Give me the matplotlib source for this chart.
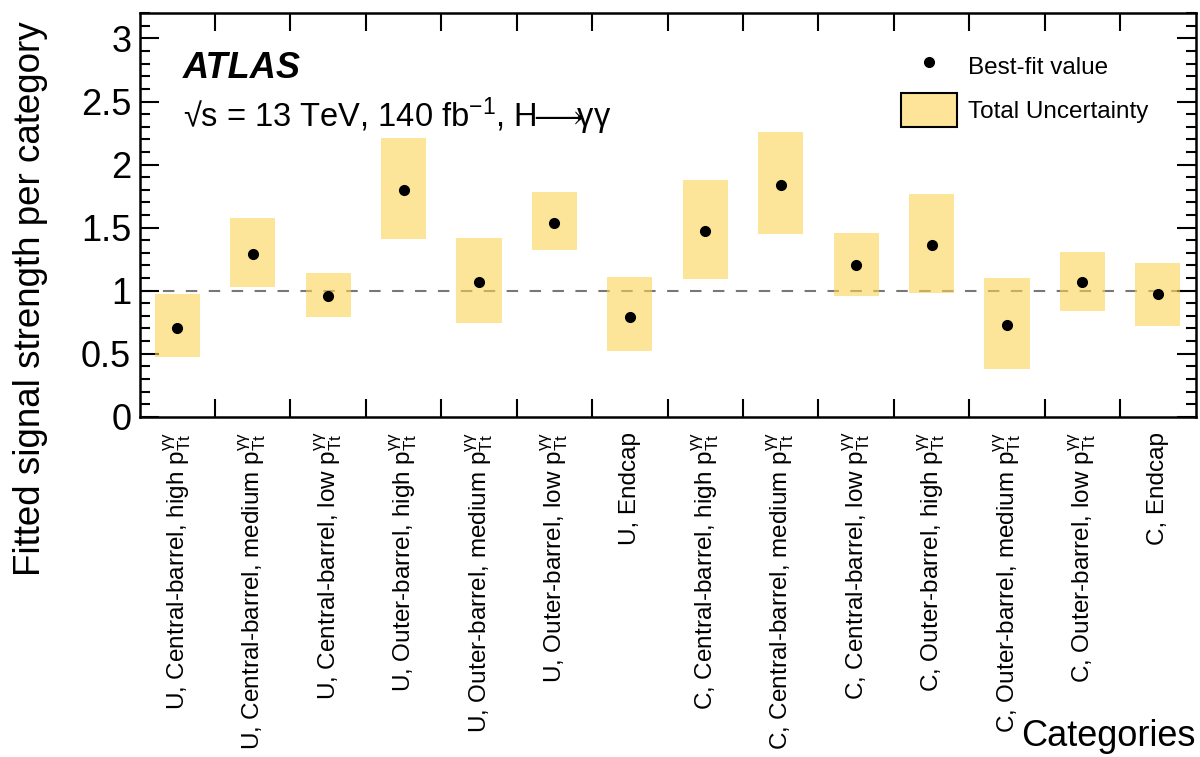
#!/usr/bin/env python3
"""Fitted signal strength per H->yy category, with total uncertainty bands."""

import matplotlib

matplotlib.use("Agg")
import matplotlib.pyplot as plt
from matplotlib.lines import Line2D
from matplotlib.patches import Patch, Rectangle
from matplotlib.ticker import MultipleLocator

plt.rcParams["font.family"] = ["Liberation Sans", "DejaVu Sans"]
plt.rcParams["mathtext.fontset"] = "custom"
plt.rcParams["mathtext.rm"] = "Liberation Sans"
plt.rcParams["mathtext.it"] = "Liberation Sans:italic"
plt.rcParams["mathtext.bf"] = "Liberation Sans:bold"
plt.rcParams["mathtext.fallback"] = "stixsans"

PTT = r"$\mathrm{p}_{\mathrm{Tt}}^{\mathrm{γγ}}$"

categories = [
    f"U, Central-barrel, high {PTT}",
    f"U, Central-barrel, medium {PTT}",
    f"U, Central-barrel, low {PTT}",
    f"U, Outer-barrel, high {PTT}",
    f"U, Outer-barrel, medium {PTT}",
    f"U, Outer-barrel, low {PTT}",
    "U, Endcap",
    f"C, Central-barrel, high {PTT}",
    f"C, Central-barrel, medium {PTT}",
    f"C, Central-barrel, low {PTT}",
    f"C, Outer-barrel, high {PTT}",
    f"C, Outer-barrel, medium {PTT}",
    f"C, Outer-barrel, low {PTT}",
    "C, Endcap",
]
mu_best = [0.70, 1.29, 0.96, 1.80, 1.07, 1.54, 0.79, 1.47, 1.84, 1.20, 1.36, 0.73, 1.07, 0.97]
mu_up = [0.97, 1.58, 1.14, 2.21, 1.42, 1.78, 1.11, 1.88, 2.26, 1.46, 1.77, 1.10, 1.31, 1.22]
mu_down = [0.47, 1.03, 0.79, 1.41, 0.74, 1.32, 0.52, 1.09, 1.45, 0.96, 0.98, 0.38, 0.84, 0.72]

BAND_COLOR = "#fbd253"
LEGEND_BAND = "#fde498"
BOX_WIDTH = 0.6

fig = plt.figure(figsize=(12, 7.57), dpi=100)
ax = fig.add_axes([0.1163, 0.4495, 0.880, 0.533])

centers = [i + 0.5 for i in range(len(categories))]

# reference line at mu = 1, drawn under the semi-transparent bands
ref = ax.axhline(1.0, color="#777777", lw=1.5, zorder=1)
ref.set_dashes((5.5, 5.5))

for x, lo, hi in zip(centers, mu_down, mu_up):
    ax.add_patch(Rectangle((x - BOX_WIDTH / 2, lo), BOX_WIDTH, hi - lo,
                           facecolor=BAND_COLOR, edgecolor="none", alpha=0.6, zorder=2))
ax.plot(centers, mu_best, "o", color="black", markersize=7, zorder=3)

ax.set_xlim(0, len(categories))
ax.set_ylim(0, 3.2)

# major x ticks sit on the category boundaries, labels on the centres
ax.set_xticks(range(1, len(categories)))
ax.set_xticklabels([])
ax.set_xticks(centers, categories, minor=True)
ax.tick_params(axis="x", which="minor", length=0, pad=11, labelsize=17.5, rotation=90)
for lab in ax.get_xticklabels(minor=True):
    lab.set_verticalalignment("top")
ax.tick_params(axis="x", which="major", direction="in", length=13, width=1.5,
               top=True, bottom=True)

ax.yaxis.set_major_locator(MultipleLocator(0.5))
ax.yaxis.set_minor_locator(MultipleLocator(0.1))
ax.set_yticks([0, 0.5, 1, 1.5, 2, 2.5, 3], ["0", "0.5", "1", "1.5", "2", "2.5", "3"])
ax.tick_params(axis="y", which="major", direction="in", length=14, width=1.5,
               left=True, right=True, labelsize=26, pad=6)
ax.tick_params(axis="y", which="minor", direction="in", length=7, width=1.5,
               left=True, right=True)
for spine in ax.spines.values():
    spine.set_linewidth(1.8)

ax.set_ylabel("Fitted signal strength per category", fontsize=26.5, loc="top")
ax.yaxis.set_label_coords(-0.087, 0.98)
ax.set_xlabel("Categories", fontsize=26, loc="right")
ax.xaxis.set_label_coords(1.0, -0.75)

ax.text(0.041, 0.84, "ATLAS", transform=ax.transAxes, fontsize=26,
        fontweight="bold", fontstyle="italic")
ax.text(0.041, 0.718, r"√s = 13 TeV, 140 fb$^{-1}$, H$\!\!\longrightarrow\!\!\!$γγ",
        transform=ax.transAxes, fontsize=23.5)

handles = [
    Line2D([], [], marker="o", color="black", linestyle="none", markersize=7),
    Patch(facecolor=LEGEND_BAND, edgecolor="black", linewidth=1.5),
]
ax.legend(handles, ["Best-fit value", "Total Uncertainty"], loc="upper left",
          bbox_to_anchor=(0.71, 0.94), frameon=False, fontsize=17.5,
          handlelength=2.3, handleheight=1.75, handletextpad=0.45,
          labelspacing=0.4, borderpad=0)

fig.savefig("out.png", dpi=100)
plt.close(fig)
